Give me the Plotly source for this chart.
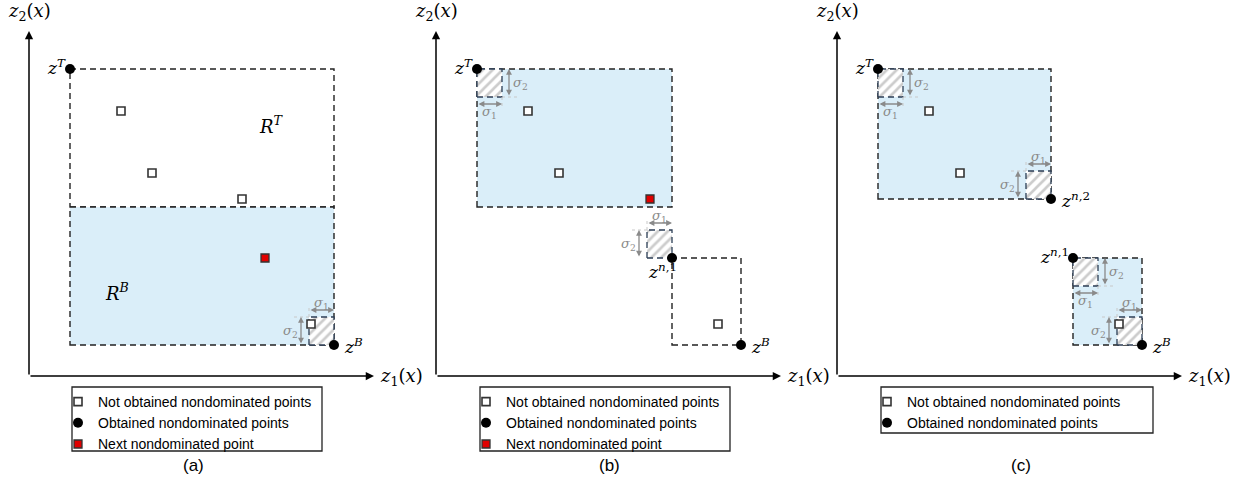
import plotly.graph_objects as go

W, H = 1242, 478

# ---------------- data: objective values ----------------
z_T = (41, 307)      # top nondominated point z^T
z_B = (305, 31)      # bottom nondominated point z^B
z_n1 = (236, 118)    # z^{n,1}
z_n2 = (214, 177)    # z^{n,2}
z2_split = 169       # split between R^T and R^B in (a)
sigma1, sigma2 = 25, 28

a_open_z1 = [92, 123, 213, 282]
a_open_z2 = [265, 203, 177, 52]
a_done_z1 = [41, 305]
a_done_z2 = [307, 31]
a_next_z1 = [236]
a_next_z2 = [118]

b_open_z1 = [92, 123, 282]
b_open_z2 = [265, 203, 52]
b_done_z1 = [41, 236, 305]
b_done_z2 = [307, 118, 31]
b_next_z1 = [214]
b_next_z2 = [177]

c_open_z1 = [92, 123, 282]
c_open_z2 = [265, 203, 52]
c_done_z1 = [41, 214, 236, 305]
c_done_z2 = [307, 177, 118, 31]

legend_labels = ["Not obtained nondominated points",
                 "Obtained nondominated points",
                 "Next nondominated point"]
panel_captions = ["(a)", "(b)", "(c)"]
axis_length = 345

# regions (z1 from, z1 to, z2 from, z2 to, shaded)
a_boxes = [(z_T[0], z_B[0], z2_split, z_T[1], False),
           (z_T[0], z_B[0], z_B[1], z2_split, True)]
b_boxes = [(z_T[0], z_n1[0], z2_split, z_T[1], True),
           (z_n1[0], z_B[0], z_B[1], z_n1[1], False)]
c_boxes = [(z_T[0], z_n2[0], z_n2[1], z_T[1], True),
           (z_n1[0], z_B[0], z_B[1], z_n1[1], True)]

# excluded (hatched) sigma-boxes: anchor point and corner type
a_hatch = [(z_B, "BR")]
b_hatch = [(z_T, "TL"), (z_n1, "BR")]
c_hatch = [(z_T, "TL"), (z_n2, "BR"), (z_n1, "TL"), (z_B, "BR")]

sup = {"T": "<i>T</i>", "B": "<i>B</i>", "n1": "<i>n</i>,1", "n2": "<i>n</i>,2"}
a_plabels = [(z_T, "T", "left"), (z_B, "B", "right")]
b_plabels = [(z_T, "T", "left"), (z_n1, "n1", "below"), (z_B, "B", "right")]
c_plabels = [(z_T, "T", "left"), (z_n2, "n2", "right"), (z_n1, "n1", "left"), (z_B, "B", "right")]

panels = [
    dict(open=(a_open_z1, a_open_z2), done=(a_done_z1, a_done_z2), nxt=(a_next_z1, a_next_z2),
         boxes=a_boxes, hatch=a_hatch, plabels=a_plabels,
         regions=[(242, 251, "<i>R</i><sup><i>T</i></sup>"), (88, 84, "<i>R</i><sup><i>B</i></sup>")]),
    dict(open=(b_open_z1, b_open_z2), done=(b_done_z1, b_done_z2), nxt=(b_next_z1, b_next_z2),
         boxes=b_boxes, hatch=b_hatch, plabels=b_plabels, regions=[]),
    dict(open=(c_open_z1, c_open_z2), done=(c_done_z1, c_done_z2), nxt=None,
         boxes=c_boxes, hatch=c_hatch, plabels=c_plabels, regions=[]),
]

# ---------------- layout geometry (pixels) ----------------
origin_px = [29, 436, 837]
origin_py = 376
columns = [(0, 414), (414, 828), (828, 1242)]
legend_boxes = [(72, 387, 322, 451), (480, 387, 730, 451), (881, 387, 1153, 433)]
caption_px = [(193, 465), (609, 465), (1021, 465)]

MATH = "DejaVu Serif"
SANS = "Liberation Sans"
DASH = "6px,4px"
BLUE = "#DAEEF9"
GREY = "#8a8a8a"

fig = go.Figure()
shapes, annotations = [], []
layout = {}

for i, P in enumerate(panels):
    s = "" if i == 0 else str(i + 1)
    xr, yr = "x" + s, "y" + s
    leg = "legend" + s
    c0, c1 = columns[i]
    ox = origin_px[i]
    layout["xaxis" + s] = dict(domain=[c0 / W, c1 / W], range=[c0 - ox, c1 - ox],
                               visible=False, fixedrange=True, anchor=yr)
    layout["yaxis" + s] = dict(domain=[0, 1], range=[origin_py - H, origin_py],
                               visible=False, fixedrange=True, anchor=xr)

    # regions
    for (x0, x1, y0, y1, shaded) in P["boxes"]:
        shapes.append(dict(type="rect", xref=xr, yref=yr, x0=x0, x1=x1, y0=y0, y1=y1,
                           fillcolor=BLUE if shaded else "rgba(0,0,0,0)",
                           line=dict(color="#222", width=1.4, dash=DASH), layer="below"))

    # hatched sigma boxes with sigma arrows
    for (p, kind) in P["hatch"]:
        if kind == "BR":
            x0, x1, y0, y1 = p[0] - sigma1, p[0], p[1], p[1] + sigma2
            s1y = y1 + 7
            s2x = x0 - 8
            s1ly = s1y + 7
            s2lx, s2anc = s2x - 1, "right"
            dots = [((x0, y1), (x0, s1y + 3)), ((x0, y1), (s2x - 8, y1))]
        else:
            x0, x1, y0, y1 = p[0], p[0] + sigma1, p[1] - sigma2, p[1]
            s1y = y0 - 7
            s2x = x1 + 7
            s1ly = s1y - 8
            s2lx, s2anc = s2x + 2, "left"
            dots = [((x1, y0), (s2x + 9, y0)), ((x1, y0), (x1, s1y - 4))]
        for (a, b) in dots:
            shapes.append(dict(type="line", xref=xr, yref=yr, x0=a[0], y0=a[1], x1=b[0], y1=b[1],
                               line=dict(color="#c8c8c8", width=1, dash="dot")))
        fig.add_trace(go.Scatter(
            x=[x0, x1, x1, x0, x0], y=[y0, y0, y1, y1, y0], xaxis=xr, yaxis=yr,
            mode="lines", fill="toself", fillcolor="white",
            fillpattern=dict(shape="/", fgcolor="#999999", bgcolor="white", size=7, solidity=0.38),
            line=dict(color="#2c3e55", width=1.3, dash=DASH),
            showlegend=False, hoverinfo="skip"))
        # sigma1 (horizontal)
        annotations.append(dict(xref=xr, yref=yr, axref=xr, ayref=yr, x=x1, y=s1y, ax=x0, ay=s1y,
                                text="", showarrow=True, arrowside="end+start", arrowhead=2,
                                arrowsize=0.9, arrowwidth=1.3, arrowcolor=GREY, standoff=0, startstandoff=0))
        annotations.append(dict(xref=xr, yref=yr, x=(x0 + x1) / 2, y=s1ly, yanchor="middle", xanchor="center",
                                text="<i>σ</i><sub>1</sub>", showarrow=False,
                                font=dict(family=MATH, size=13, color=GREY)))
        # sigma2 (vertical)
        annotations.append(dict(xref=xr, yref=yr, axref=xr, ayref=yr, x=s2x, y=y1, ax=s2x, ay=y0,
                                text="", showarrow=True, arrowside="end+start", arrowhead=2,
                                arrowsize=0.9, arrowwidth=1.3, arrowcolor=GREY, standoff=0, startstandoff=0))
        annotations.append(dict(xref=xr, yref=yr, x=s2lx, y=(y0 + y1) / 2, xanchor=s2anc, yanchor="middle",
                                text="<i>σ</i><sub>2</sub>", showarrow=False,
                                font=dict(family=MATH, size=13, color=GREY)))

    # points
    ox1, oz2 = P["open"]
    fig.add_trace(go.Scatter(x=ox1, y=oz2, xaxis=xr, yaxis=yr, mode="markers", name=legend_labels[0],
                             legend=leg, cliponaxis=False, hoverinfo="skip",
                             marker=dict(symbol="square", size=8, color="white",
                                         line=dict(color="#333", width=1.6))))
    dx1, dz2 = P["done"]
    fig.add_trace(go.Scatter(x=dx1, y=dz2, xaxis=xr, yaxis=yr, mode="markers", name=legend_labels[1],
                             legend=leg, cliponaxis=False, hoverinfo="skip",
                             marker=dict(symbol="circle", size=10, color="black")))
    if P["nxt"] is not None:
        nx1, nz2 = P["nxt"]
        fig.add_trace(go.Scatter(x=nx1, y=nz2, xaxis=xr, yaxis=yr, mode="markers", name=legend_labels[2],
                                 legend=leg, cliponaxis=False, hoverinfo="skip",
                                 marker=dict(symbol="square", size=8, color="#e00000",
                                             line=dict(color="#333", width=1.3))))

    # point labels
    for (p, key, pos) in P["plabels"]:
        txt = "<i>z</i><sup>" + sup[key] + "</sup>"
        if pos == "left":
            ann = dict(x=p[0] - 2, y=p[1] + 2, xanchor="right", yanchor="middle")
        elif pos == "right":
            ann = dict(x=p[0] + 8, y=p[1] - 1, xanchor="left", yanchor="middle")
        else:
            ann = dict(x=p[0] - 10, y=p[1] - 13, xanchor="center", yanchor="middle")
        ann.update(xref=xr, yref=yr, text=txt, showarrow=False, font=dict(family=MATH, size=17, color="black"))
        annotations.append(ann)

    for (rx, ry, txt) in P["regions"]:
        annotations.append(dict(xref=xr, yref=yr, x=rx, y=ry, text=txt, showarrow=False,
                                font=dict(family=MATH, size=18, color="black")))

    # coordinate axes with arrows
    for (tx, ty) in [(axis_length, 0), (0, axis_length)]:
        annotations.append(dict(xref=xr, yref=yr, axref=xr, ayref=yr, x=tx, y=ty, ax=0, ay=0,
                                text="", showarrow=True, arrowhead=2, arrowsize=1.1, arrowwidth=1.5,
                                arrowcolor="black", standoff=0))
    annotations.append(dict(xref=xr, yref=yr, x=axis_length + 4, y=-1, xanchor="left", yanchor="middle",
                            text="<i>z</i><sub>1</sub>(<i>x</i>)", showarrow=False,
                            font=dict(family=MATH, size=18, color="black")))
    annotations.append(dict(xref=xr, yref=yr, x=0, y=axis_length + 19, xanchor="center", yanchor="middle",
                            text="<i>z</i><sub>2</sub>(<i>x</i>)", showarrow=False,
                            font=dict(family=MATH, size=18, color="black")))

    # legend box + legend
    lx0, ly0, lx1, ly1 = legend_boxes[i]
    shapes.append(dict(type="rect", xref="paper", yref="paper", x0=lx0 / W, x1=lx1 / W,
                       y0=1 - ly0 / H, y1=1 - ly1 / H, line=dict(color="#222", width=1.3),
                       fillcolor="rgba(0,0,0,0)"))
    layout[leg] = dict(x=(lx0 + 26 - 40) / W, xanchor="left", y=1 - (ly0 - 1) / H, yanchor="top",
                       bgcolor="rgba(0,0,0,0)", borderwidth=0, traceorder="normal",
                       font=dict(family=SANS, size=14, color="black"), itemclick=False)

    cx, cy = caption_px[i]
    annotations.append(dict(xref="paper", yref="paper", x=cx / W, y=1 - cy / H, text=panel_captions[i],
                            showarrow=False, xanchor="center", yanchor="middle",
                            font=dict(family=SANS, size=17, color="black")))

fig.update_layout(width=W, height=H, margin=dict(l=0, r=0, t=0, b=0),
                  paper_bgcolor="white", plot_bgcolor="white",
                  shapes=shapes, annotations=annotations, showlegend=True, **layout)

fig.write_html("out.html", config={"displayModeBar": False},
               post_script="document.body.style.margin='0px';")
